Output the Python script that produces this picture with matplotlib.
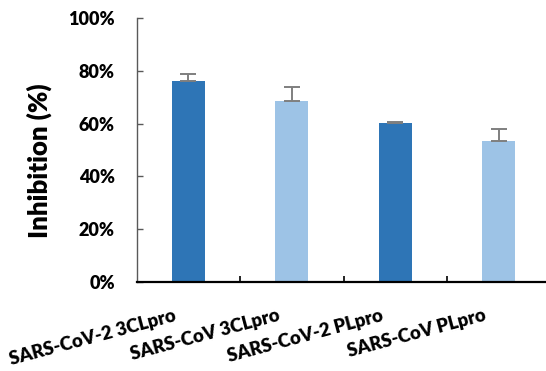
import matplotlib
matplotlib.use("Agg")
import matplotlib.pyplot as plt
from matplotlib.ticker import FixedLocator, FuncFormatter
from matplotlib.transforms import ScaledTranslation

plt.rcParams["font.family"] = ["Lato", "DejaVu Sans"]

categories = ["SARS-CoV-2 3CLpro", "SARS-CoV 3CLpro", "SARS-CoV-2 PLpro", "SARS-CoV PLpro"]
inhibition = [76.1, 68.5, 60.1, 53.3]
errors = [2.9, 5.5, 0.4, 4.8]
bar_colors = ["#2E75B6", "#9DC3E6", "#2E75B6", "#9DC3E6"]
y_ticks = [0, 20, 40, 60, 80, 100]

fig = plt.figure(figsize=(5.46, 3.71), dpi=100)
ax = fig.add_axes([136.5 / 546, 89.3 / 371, 414 / 546, 263.4 / 371])

x = list(range(len(categories)))
ax.bar(x, inhibition, width=0.32, color=bar_colors, edgecolor="none", zorder=2)
ax.errorbar(x, inhibition, yerr=[[0] * len(errors), errors], fmt="none",
            ecolor="#7F7F7F", elinewidth=1.4, capsize=5.5, capthick=1.4, zorder=3)

ax.set_xlim(-0.5, len(categories) - 0.5)
ax.set_ylim(0, 100)

for side in ("top", "right"):
    ax.spines[side].set_visible(False)
ax.spines["left"].set_color("#595959")
ax.spines["left"].set_linewidth(1.0)
ax.spines["bottom"].set_color("black")
ax.spines["bottom"].set_linewidth(1.6)

ax.yaxis.set_major_locator(FixedLocator(y_ticks))
ax.yaxis.set_major_formatter(FuncFormatter(lambda v, p: f"{v:.0f}%"))
ax.tick_params(axis="y", direction="in", length=4.5, width=1.0, color="#595959",
               pad=15.5, labelsize=13)
for lab in ax.get_yticklabels():
    lab.set_fontweight("heavy")

# category boundary ticks on the x axis, labels at category centres
ax.set_xticks([i + 0.5 for i in x])
ax.set_xticklabels([])
ax.tick_params(axis="x", direction="in", length=4.5, width=1.2, color="black")

offset = ScaledTranslation(-15 / 100, -25 / 100, fig.dpi_scale_trans)
for xi, name in zip(x, categories):
    ax.text(xi, 0, name, rotation=15, rotation_mode="anchor", ha="right", va="top",
            fontsize=13.3, fontweight="heavy", transform=ax.get_xaxis_transform() + offset,
            clip_on=False)

fig.text(39 / 546, 210 / 371, "Inhibition (%)", rotation=90, ha="center", va="center",
         fontsize=18.5, fontweight="heavy")

fig.savefig("out.png", dpi=100)
